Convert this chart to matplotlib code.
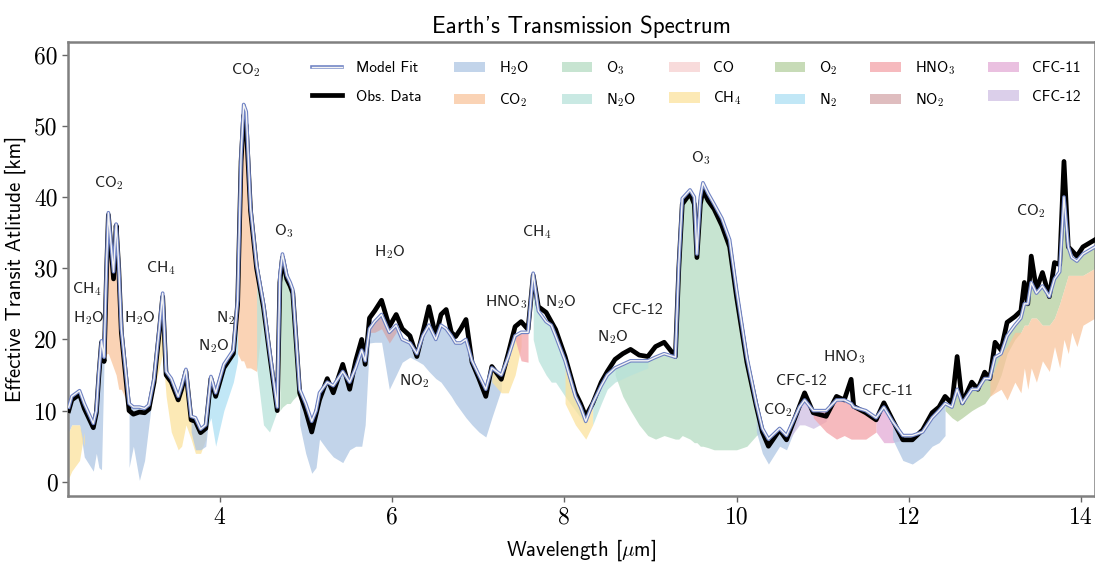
import matplotlib

matplotlib.use("Agg")
import matplotlib.pyplot as plt
import matplotlib.patheffects as pe
from matplotlib.patches import Patch
from matplotlib.lines import Line2D

plt.rcParams["mathtext.fontset"] = "cm"

# wavelength grid [um], observed and model transit altitude [km]
wl = [2.25, 2.285, 2.375, 2.43, 2.535, 2.57, 2.60, 2.63, 2.66, 2.69, 2.71, 2.74, 2.77, 2.80, 2.83,
      2.86, 2.95, 3.00, 3.07, 3.13, 3.18, 3.24, 3.30, 3.34, 3.38, 3.44, 3.52, 3.56, 3.61, 3.67,
      3.72, 3.78, 3.84, 3.90, 3.955, 4.05, 4.16, 4.21, 4.25, 4.28, 4.31, 4.36, 4.43, 4.51, 4.58,
      4.67, 4.70, 4.73, 4.78, 4.82, 4.85, 4.93, 5.00, 5.07, 5.12, 5.16, 5.25, 5.32, 5.43, 5.51,
      5.58, 5.65, 5.69, 5.74, 5.80, 5.88, 5.97, 6.05, 6.12, 6.21, 6.29, 6.36, 6.43, 6.51, 6.57,
      6.63, 6.69, 6.74, 6.80, 6.86, 6.93, 7.01, 7.09, 7.16, 7.27, 7.35, 7.43, 7.50, 7.58, 7.64,
      7.70, 7.79, 7.85, 7.90, 8.01, 8.13, 8.19, 8.25, 8.33, 8.43, 8.50, 8.59, 8.68, 8.77, 8.87,
      8.97, 9.06, 9.16, 9.29, 9.33, 9.37, 9.46, 9.51, 9.54, 9.58, 9.61, 9.67, 9.74, 9.83, 9.92,
      10.00, 10.12, 10.23, 10.30, 10.37, 10.50, 10.58, 10.73, 10.79, 10.89, 11.04, 11.16, 11.25,
      11.33, 11.36, 11.50, 11.62, 11.71, 11.81, 11.93, 12.04, 12.16, 12.27, 12.35, 12.42, 12.50,
      12.56, 12.62, 12.73, 12.80, 12.88, 12.94, 13.00, 13.07, 13.14, 13.23, 13.30, 13.34, 13.38,
      13.42, 13.48, 13.55, 13.63, 13.69, 13.75, 13.80, 13.85, 13.89, 13.95, 14.02, 14.16]

obs = [10.0, 11.5, 12.3, 10.3, 7.6, 9.7, 15.0, 19.6, 16.9, 30.0, 37.5, 33.0, 28.5, 36.0, 30.0,
       21.0, 10.0, 9.5, 9.8, 9.7, 10.2, 14.0, 21.0, 26.0, 15.0, 14.0, 11.5, 13.0, 15.5, 8.7,
       8.5, 6.9, 7.5, 14.5, 12.0, 16.0, 18.0, 25.0, 45.0, 51.5, 50.0, 38.0, 30.0, 24.5, 18.0,
       10.0, 28.0, 31.5, 28.5, 27.5, 26.5, 12.5, 10.0, 7.0, 9.5, 11.5, 14.5, 12.5, 16.5, 13.0,
       17.0, 20.0, 16.5, 23.0, 24.0, 25.5, 21.8, 23.5, 21.5, 20.5, 17.6, 21.0, 24.6, 20.4, 23.5,
       24.2, 21.0, 20.4, 21.5, 22.8, 16.8, 14.5, 12.0, 16.2, 14.4, 18.0, 21.8, 22.5, 21.4, 29.0,
       24.6, 23.8, 22.5, 21.4, 17.6, 12.5, 11.0, 9.2, 11.0, 14.0, 15.5, 17.2, 18.0, 18.6, 17.8,
       17.6, 19.0, 19.6, 17.6, 30.0, 39.0, 40.5, 39.0, 31.5, 39.0, 41.0, 39.5, 38.3, 36.0, 33.0,
       26.0, 16.8, 10.6, 7.0, 5.0, 7.3, 5.9, 10.6, 12.5, 9.7, 9.2, 12.0, 11.5,
       14.4, 10.6, 9.7, 8.7, 11.1, 8.7, 5.9, 5.9, 7.3, 9.7, 10.5, 12.0, 11.0,
       17.6, 11.1, 14.0, 13.0, 15.4, 14.5, 19.6, 18.5, 22.4, 23.2, 24.0, 28.0, 25.0,
       31.7, 27.0, 29.4, 26.0, 30.8, 30.5, 45.0, 33.0, 32.5, 31.7, 33.0, 34.0]

model = [10.5, 12.0, 12.8, 11.0, 8.2, 10.0, 15.5, 19.8, 17.5, 31.0, 37.8, 33.5, 29.5, 36.2, 30.5,
         21.5, 11.0, 10.5, 10.5, 10.3, 10.8, 14.5, 21.5, 26.5, 15.5, 14.5, 12.0, 13.5, 15.8, 9.2,
         9.0, 7.4, 8.0, 14.8, 12.5, 16.5, 18.5, 25.5, 46.0, 53.0, 52.0, 38.5, 30.5, 25.0, 18.5,
         10.5, 29.0, 32.0, 29.0, 28.0, 27.0, 13.0, 11.0, 8.5, 10.0, 12.5, 14.0, 13.5, 15.5, 14.0,
         16.0, 18.5, 17.0, 21.5, 22.5, 23.5, 21.0, 22.0, 20.0, 19.5, 18.0, 20.5, 22.0, 20.0, 22.0,
         21.5, 20.5, 19.5, 19.5, 20.0, 17.0, 15.0, 13.0, 16.0, 15.0, 17.5, 20.5, 21.0, 21.0, 29.3,
         24.0, 22.5, 22.0, 20.5, 17.0, 12.0, 10.5, 8.5, 11.0, 13.5, 15.0, 16.0, 16.5, 17.0, 17.0,
         17.0, 17.5, 18.0, 17.5, 30.5, 39.8, 41.0, 40.0, 32.0, 40.0, 42.0, 40.5, 39.0, 37.0, 34.0,
         27.0, 17.5, 11.0, 7.5, 6.0, 7.5, 6.5, 10.5, 11.5, 10.0, 10.0, 11.5, 11.5,
         11.0, 10.5, 10.0, 9.0, 10.5, 8.5, 6.5, 6.5, 7.0, 9.0, 10.0, 11.0, 10.5,
         13.0, 11.0, 13.0, 13.0, 14.5, 14.5, 17.5, 18.0, 20.5, 22.0, 23.0, 25.0, 25.0,
         28.0, 26.5, 27.5, 26.0, 28.5, 29.5, 40.0, 33.0, 31.5, 31.0, 32.0, 33.0]

# absorber contributions: wavelengths and lower edges (upper edge = model unless given)
h2o_a_wl = [2.25, 2.285, 2.375, 2.43, 2.535, 2.57, 2.60, 2.63, 2.66]
h2o_a_lo = [7.0, 8.0, 8.0, 3.5, 1.5, 4.0, 2.0, 1.7, 16.9]
ch4_a_wl = [2.25, 2.285, 2.375, 2.43]
ch4_a_lo = [0.5, 1.5, 3.0, 7.0]
ch4_a_hi = [7.0, 8.0, 8.0, 5.0]
co2_a_wl = [2.66, 2.69, 2.71, 2.74, 2.77, 2.80, 2.83, 2.86, 2.95]
co2_a_lo = [16.9, 18.0, 18.0, 17.0, 16.0, 15.0, 13.0, 13.0, 10.5]
h2o_b_wl = [2.95, 3.00, 3.07, 3.13, 3.18, 3.24]
h2o_b_lo = [2.0, 5.0, 0.2, 3.0, 8.0, 14.0]
ch4_b_wl = [3.24, 3.30, 3.34, 3.38, 3.44, 3.52, 3.56, 3.61, 3.67, 3.72, 3.78, 3.84]
ch4_b_lo = [13.0, 16.0, 18.0, 12.0, 7.0, 4.5, 5.0, 8.0, 6.0, 4.0, 4.0, 6.0]
h2o_c_wl = [3.67, 3.72, 3.78, 3.84, 3.90]
h2o_c_lo = [7.0, 4.5, 4.5, 5.0, 12.0]
n2_wl = [3.84, 3.90, 3.955, 4.05, 4.16, 4.21]
n2_lo = [7.0, 9.0, 5.0, 10.0, 14.0, 17.0]
co2_b_wl = [4.21, 4.25, 4.28, 4.31, 4.36, 4.43, 4.51]
co2_b_lo = [18.0, 17.0, 17.0, 16.0, 16.0, 15.5, 24.0]
n2o_a_wl = [4.43, 4.51, 4.58, 4.67]
n2o_a_lo = [16.0, 8.0, 7.0, 10.0]
o3_a_wl = [4.70, 4.73, 4.78, 4.82, 4.85, 4.93]
o3_a_lo = [10.0, 10.5, 11.0, 11.0, 11.5, 12.5]
h2o_d_wl = [4.93, 5.00, 5.07, 5.12, 5.16, 5.25, 5.32, 5.43, 5.51, 5.58, 5.65, 5.69, 5.74, 5.80,
            5.88, 5.97, 6.05, 6.12, 6.21, 6.29, 6.36, 6.43, 6.51, 6.57, 6.63, 6.69, 6.74, 6.80,
            6.86, 6.93, 7.01, 7.09, 7.16, 7.27]
h2o_d_lo = [8.0, 4.0, 1.2, 2.0, 6.0, 4.5, 3.5, 2.7, 4.5, 5.0, 5.0, 8.0, 19.5, 19.6,
            19.6, 13.0, 15.0, 16.8, 17.5, 17.0, 16.5, 15.5, 14.5, 14.0, 13.0, 12.0, 11.0, 10.0,
            9.0, 8.0, 7.0, 6.3, 9.0, 13.0]
no2_wl = [5.74, 5.80, 5.88, 5.97, 6.05]
no2_lo = [21.0, 21.0, 21.5, 19.5, 21.0]
ch4_c_wl = [7.16, 7.27, 7.35, 7.43, 7.50]
ch4_c_lo = [14.0, 12.5, 12.5, 15.0, 19.0]
hno3_a_wl = [7.43, 7.50, 7.58]
hno3_a_lo = [20.0, 17.0, 16.8]
n2o_b_wl = [7.64, 7.70, 7.79, 7.85, 7.90, 8.01, 8.13, 8.19, 8.25]
n2o_b_lo = [20.0, 17.0, 15.0, 14.0, 14.0, 12.0, 10.0, 9.0, 8.0]
ch4_d_wl = [8.01, 8.13, 8.19, 8.25, 8.33]
ch4_d_lo = [11.0, 8.0, 7.0, 6.0, 8.0]
o3_b_wl = [8.59, 8.68, 8.77, 8.87, 8.97, 9.06, 9.16, 9.29, 9.33, 9.37, 9.46, 9.51, 9.54, 9.58,
           9.61, 9.67, 9.74, 9.83, 9.92, 10.00, 10.12, 10.23, 10.30]
o3_b_lo = [15.0, 12.0, 10.0, 8.0, 6.5, 6.0, 6.5, 6.0, 6.0, 6.5, 6.0, 5.5, 5.5, 5.0,
           5.0, 4.8, 4.5, 4.5, 4.5, 4.5, 5.0, 6.5, 7.0]
n2o_c_wl = [8.33, 8.43, 8.50, 8.59, 8.68, 8.77, 8.87, 8.97]
n2o_c_lo = [8.0, 11.0, 13.0, 14.0, 14.5, 15.0, 15.5, 16.0]
h2o_e_wl = [10.23, 10.30, 10.37, 10.50, 10.58, 10.73]
h2o_e_lo = [7.0, 4.0, 2.5, 5.0, 4.5, 9.0]
cfc12_wl = [10.58, 10.73, 10.79, 10.89, 11.04]
cfc12_lo = [5.5, 8.0, 8.0, 7.5, 8.5]
hno3_b_wl = [10.89, 11.04, 11.16, 11.25, 11.33, 11.36, 11.50, 11.62]
hno3_b_lo = [9.0, 7.0, 6.0, 6.5, 6.0, 6.0, 6.0, 7.0]
cfc11_wl = [11.62, 11.71, 11.81, 11.93]
cfc11_lo = [7.0, 5.5, 5.5, 5.9]
h2o_f_wl = [11.81, 11.93, 12.04, 12.16, 12.27, 12.35, 12.42]
h2o_f_lo = [6.0, 3.0, 2.5, 3.5, 5.0, 5.5, 6.5]
o2_wl = [12.42, 12.50, 12.56, 12.62, 12.73, 12.80, 12.88, 12.94, 13.00, 13.07, 13.14, 13.23,
         13.30, 13.34, 13.38, 13.42, 13.48, 13.55, 13.63, 13.69, 13.75, 13.80, 13.85, 13.89,
         13.95, 14.02, 14.16]
o2_lo = [10.0, 9.0, 8.5, 9.0, 10.0, 10.5, 11.0, 12.0, 13.0, 15.0, 18.0, 20.0,
         21.0, 22.0, 22.0, 23.0, 23.0, 22.0, 22.0, 23.0, 25.0, 27.0, 29.0, 29.0,
         29.0, 29.0, 30.0]
co2_c_wl = [12.94, 13.00, 13.07, 13.14, 13.23, 13.30, 13.34, 13.38, 13.42, 13.48, 13.55, 13.63,
            13.69, 13.75, 13.80, 13.85, 13.89, 13.95, 14.02, 14.16]
co2_c_lo = [12.0, 12.5, 13.0, 11.5, 14.0, 12.5, 16.0, 13.0, 16.0, 14.0, 17.0, 15.5,
            19.0, 16.0, 20.0, 18.0, 21.0, 19.0, 22.0, 23.0]
co2_c_hi = [14.0, 16.0, 18.0, 19.0, 21.0, 21.0, 22.0, 22.0, 23.0, 23.0, 22.0, 22.0,
            23.0, 25.0, 27.0, 29.0, 29.0, 29.0, 29.0, 30.0]

species = ["H2O", "CO2", "O3", "N2O", "CO", "CH4", "O2", "N2", "HNO3", "NO2", "CFC-11", "CFC-12"]
species_labels = [r"H$_\mathsf{2}$O", r"CO$_\mathsf{2}$", r"O$_\mathsf{3}$", r"N$_\mathsf{2}$O",
                  "CO", r"CH$_\mathsf{4}$", r"O$_\mathsf{2}$", r"N$_\mathsf{2}$",
                  r"HNO$_\mathsf{3}$", r"NO$_\mathsf{2}$", "CFC-11", "CFC-12"]
colors = {"H2O": "#aec6e3", "CO2": "#f9c59c", "O3": "#b5dcc2", "N2O": "#b8e2da",
          "CO": "#f6cfcf", "CH4": "#fbe29c", "O2": "#b5cf9f", "N2": "#ade0f4",
          "HNO3": "#f4a3a8", "NO2": "#d5a7aa", "CFC-11": "#e3abd6", "CFC-12": "#cfc0e3"}

fills = [
    ("O3", o3_b_wl, o3_b_lo, None), ("H2O", h2o_a_wl, h2o_a_lo, None),
    ("CH4", ch4_a_wl, ch4_a_lo, ch4_a_hi), ("CO2", co2_a_wl, co2_a_lo, None),
    ("H2O", h2o_b_wl, h2o_b_lo, None), ("CH4", ch4_b_wl, ch4_b_lo, None),
    ("H2O", h2o_c_wl, h2o_c_lo, None), ("N2", n2_wl, n2_lo, None),
    ("CO2", co2_b_wl, co2_b_lo, None), ("N2O", n2o_a_wl, n2o_a_lo, None),
    ("O3", o3_a_wl, o3_a_lo, None), ("H2O", h2o_d_wl, h2o_d_lo, None),
    ("NO2", no2_wl, no2_lo, None), ("CH4", ch4_c_wl, ch4_c_lo, None),
    ("HNO3", hno3_a_wl, hno3_a_lo, None), ("N2O", n2o_b_wl, n2o_b_lo, None),
    ("CH4", ch4_d_wl, ch4_d_lo, None), ("N2O", n2o_c_wl, n2o_c_lo, None),
    ("H2O", h2o_e_wl, h2o_e_lo, None), ("CFC-12", cfc12_wl, cfc12_lo, None),
    ("HNO3", hno3_b_wl, hno3_b_lo, None), ("CFC-11", cfc11_wl, cfc11_lo, None),
    ("H2O", h2o_f_wl, h2o_f_lo, None), ("O2", o2_wl, o2_lo, None),
    ("CO2", co2_c_wl, co2_c_lo, co2_c_hi),
]

# band labels: text, wavelength, altitude
band_text = [r"CO$_\mathsf{2}$", r"CH$_\mathsf{4}$", r"H$_\mathsf{2}$O", r"H$_\mathsf{2}$O",
             r"CH$_\mathsf{4}$", r"CO$_\mathsf{2}$", r"N$_\mathsf{2}$", r"N$_\mathsf{2}$O",
             r"O$_\mathsf{3}$", r"H$_\mathsf{2}$O", r"NO$_\mathsf{2}$", r"HNO$_\mathsf{3}$",
             r"CH$_\mathsf{4}$", r"N$_\mathsf{2}$O", "CFC-12", r"N$_\mathsf{2}$O", r"O$_\mathsf{3}$",
             "CFC-12", r"CO$_\mathsf{2}$", r"HNO$_\mathsf{3}$", "CFC-11", r"CO$_\mathsf{2}$"]
band_x = [2.72, 2.46, 2.48, 3.07, 3.32, 4.30, 4.07, 3.93, 4.75, 5.98, 6.26, 7.32,
          7.68, 7.96, 8.85, 8.56, 9.58, 10.75, 10.48, 11.25, 11.75, 13.42]
band_y = [42.0, 27.0, 23.0, 23.0, 30.0, 57.8, 23.0, 19.0, 35.2, 32.2, 14.2, 25.3,
          35.0, 25.2, 24.2, 20.3, 45.4, 14.2, 10.1, 17.5, 12.7, 38.0]

model_at = dict(zip(wl, model))

fig = plt.figure(figsize=(10.95, 5.65), dpi=100)
ax = fig.add_axes([0.062, 0.122, 0.938, 0.804])

for name, xs, lo, hi in fills:
    top = hi if hi is not None else [model_at[w] for w in xs]
    ax.fill_between(xs, lo, top, color=colors[name], lw=0, alpha=0.75, zorder=1)

ax.plot(wl, obs, color="black", lw=3.4, zorder=3, solid_joinstyle="round")
ax.plot(wl, model, color="#f4f4f4", lw=1.0, zorder=4,
        path_effects=[pe.Stroke(linewidth=2.6, foreground="#7083c4"), pe.Normal()])

for t, x, y in zip(band_text, band_x, band_y):
    ax.text(x, y, t, ha="center", va="center", fontsize=11.5, family="cmss10", color="#222222")

ax.set_xlim(2.24, 14.16)
ax.set_ylim(-2, 61.8)
ax.set_xticks([4, 6, 8, 10, 12, 14])
ax.set_yticks([0, 10, 20, 30, 40, 50, 60])
ax.tick_params(labelsize=17, labelfontfamily="cmr10", color="#666666", length=4, width=1)
for side in ["left", "bottom", "top", "right"]:
    ax.spines[side].set_color("#808080")
    ax.spines[side].set_linewidth(1.8)

ax.set_xlabel(r"Wavelength [$\mu$m]", fontsize=15, family="cmss10", labelpad=6)
ax.set_ylabel("Effective Transit Atlitude [km]", fontsize=15, family="cmss10", labelpad=6)
ax.set_title("Earth's Transmission Spectrum", fontsize=16.5, family="cmss10", pad=6)

handles = [
    Line2D([], [], color="#f4f4f4", lw=1.0,
           path_effects=[pe.Stroke(linewidth=2.6, foreground="#7083c4"), pe.Normal()]),
    Line2D([], [], color="black", lw=3.4),
]
labels = ["Model Fit", "Obs. Data"]
for name, lab in zip(species, species_labels):
    handles.append(Patch(facecolor=colors[name], edgecolor="none", alpha=0.75))
    labels.append(lab)

leg = ax.legend(handles, labels, ncol=7, loc="upper left", bbox_to_anchor=(0.279, 0.906),
                bbox_transform=fig.transFigure, frameon=False, fontsize=11,
                handlelength=2.0, handletextpad=0.9, columnspacing=2.15, labelspacing=0.95,
                borderaxespad=0)
for txt in leg.get_texts():
    txt.set_family("cmss10")

fig.savefig("out.png", dpi=100)
